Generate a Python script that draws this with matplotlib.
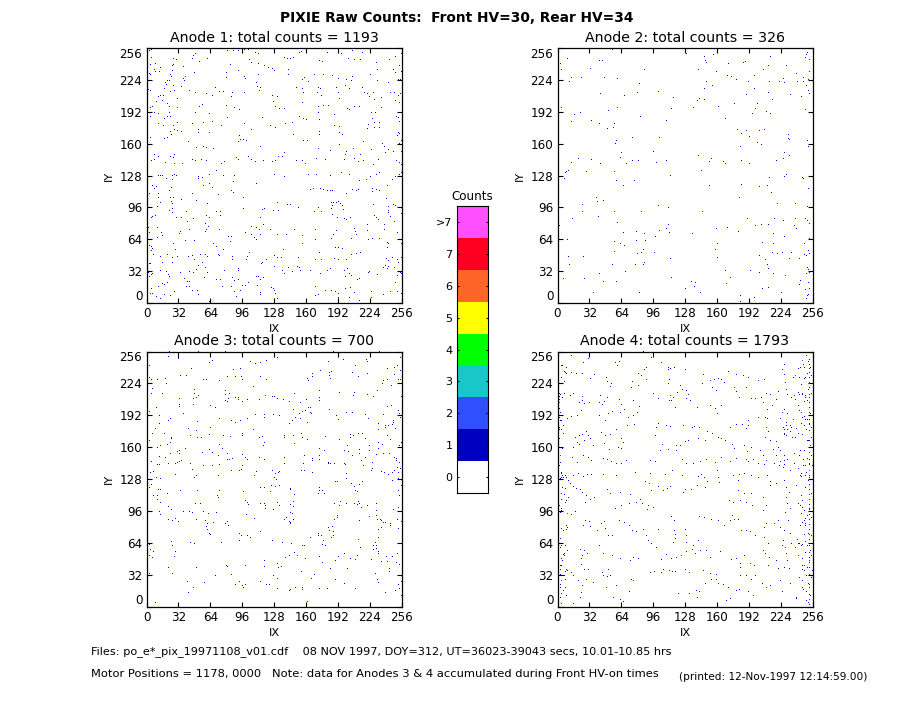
import numpy as np
import matplotlib
matplotlib.use('Agg')
import matplotlib.pyplot as plt
from matplotlib.colors import ListedColormap, BoundaryNorm

W, H = 913, 705

# (IX, IY) of the pixels
anode1_pts = [(2,253),(4,254),(7,255),(8,255),(80,253),(86,253),(91,253),(97,254),(101,254),(51,255),(119,255),(154,252),(152,251),(108,251),(111,250),(180,251),(194,250),(210,255),(205,253),(215,251),(223,252),(254,250),(48,250),(46,248),(45,245),(4,246),(26,245),(29,244),(52,242),(60,245),(102,244),(104,241),(137,246),(140,245),(143,245),(146,246),(172,243),(175,242),(201,245),(207,244),(213,244),(242,244),(248,247),(229,241),(3,239),(8,240),(13,236),(25,238),(26,239),(36,237),(83,239),(91,233),(111,240),(117,238),(121,236),(125,235),(127,233),(141,234),(141,229),(79,231),(79,226),(97,227),(98,225),(111,229),(47,231),(2,230),(3,229),(7,234),(8,232),(12,232),(25,233),(23,229),(24,227),(38,227),(36,225),(37,223),(18,221),(20,223),(19,219),(22,223),(26,218),(34,217),(1,214),(3,213),(23,212),(17,215),(27,213),(42,213),(48,211),(59,210),(65,208),(68,216),(72,212),(76,212),(85,211),(84,207),(97,211),(109,221),(110,217),(113,216),(112,213),(125,208),(126,202),(130,207),(128,197),(132,195),(137,195),(149,216),(155,215),(157,226),(155,224),(161,222),(167,229),(156,211),(155,201),(171,216),(173,215),(170,211),(174,208),(171,197),(176,198),(181,198),(171,191),(187,189),(185,228),(176,229),(191,225),(189,216),(191,211),(192,205),(198,218),(199,224),(205,227),(204,223),(202,215),(215,216),(217,211),(220,210),(222,207),(226,211),(227,204),(230,234),(223,229),(230,223),(241,221),(246,234),(248,231),(252,238),(254,232),(251,224),(253,224),(243,211),(247,211),(251,208),(253,210),(248,203),(252,201),(234,206),(200,195),(202,194),(207,197),(212,197),(224,191),(228,191),(234,196),(249,187),(251,186),(252,182),(254,191),(3,196),(5,197),(7,191),(11,190),(17,185),(11,180),(16,178),(3,187),(22,191),(20,200),(22,197),(30,196),(20,187),(23,187),(9,202),(11,207),(13,208),(16,208),(15,203),(30,205),(52,197),(55,199),(48,191),(62,190),(79,198),(87,196),(92,194),(80,186),(65,182),(56,181),(45,180),(51,174),(51,171),(62,171),(74,178),(97,180),(104,174),(115,186),(123,178),(128,176),(138,180),(145,181),(152,187),(156,185),(159,184),(146,169),(172,184),(172,172),(172,169),(187,178),(192,177),(192,171),(195,169),(225,185),(227,181),(232,181),(232,176),(227,176),(221,179),(220,175),(26,178),(30,181),(27,174),(30,173),(34,172),(23,172),(24,169),(20,166),(17,165),(3,166),(41,162),(49,156),(56,157),(59,156),(66,155),(92,168),(93,164),(96,164),(99,163),(91,162),(113,157),(156,163),(160,163),(216,162),(192,159),(206,155),(235,160),(237,157),(241,154),(246,152),(252,170),(250,168),(251,171),(254,163),(252,160),(254,152),(171,155),(183,153),(199,152),(198,149),(213,149),(224,154),(238,151),(7,149),(11,147),(7,144),(4,143),(23,147),(27,149),(26,146),(18,141),(27,140),(35,140),(45,144),(48,143),(54,144),(59,143),(74,140),(77,142),(89,146),(91,144),(101,147),(104,144),(108,142),(116,143),(125,142),(128,143),(131,147),(135,147),(137,151),(149,143),(155,143),(158,140),(169,145),(178,144),(207,145),(197,144),(211,142),(216,143),(226,139),(231,144),(249,143),(252,141),(254,139),
(11,128),(13,128),(15,128),(25,128),(27,129),(29,128),(46,127),(51,126),(55,125),(62,129),(69,133),(76,128),(87,128),(86,121),(127,129),(137,126),(161,129),(169,129),(183,128),(194,131),(202,129),(212,122),(219,123),(223,126),(229,129),(232,131),(245,123),(248,126),(252,129),(254,131),(5,117),(9,116),(7,114),(19,124),(24,115),(25,123),(2,109),(11,109),(22,112),(51,124),(56,117),(62,119),(65,115),(45,109),(71,108),(84,112),(86,110),(109,119),(163,113),(166,114),(173,114),(176,113),(180,112),(183,112),(185,112),(199,109),(205,113),(209,112),(211,113),(225,114),(225,111),(229,113),(232,112),(240,117),(239,104),(11,105),(13,100),(23,105),(26,105),(24,101),(25,99),(34,103),(22,92),(25,94),(25,90),(29,85),(34,85),(39,91),(10,96),(8,87),(5,86),(4,85),(49,102),(60,99),(96,105),(96,94),(69,91),(73,91),(73,87),(59,87),(62,85),(115,93),(117,94),(126,92),(131,92),(130,100),(140,98),(143,98),(151,95),(167,91),(171,95),(174,91),(184,100),(186,100),(189,100),(191,101),(193,99),(195,97),(196,93),(185,97),(184,94),(185,88),(190,85),(197,84),(199,83),(203,85),(226,98),(227,87),(229,85),(231,83),(241,96),(241,92),(241,90),(246,98),(248,97),(251,95),(254,89),(243,86),(247,81),(40,81),(46,84),(58,79),(61,76),(59,73),(58,71),(42,73),(33,71),(32,69),(10,75),(14,70),(1,75),(2,70),(10,65),(15,67),(38,62),(26,59),(47,62),(72,73),(84,66),(81,66),(83,61),(98,70),(104,76),(109,75),(104,68),(107,65),(109,63),(112,73),(113,68),(116,78),(113,85),(123,73),(130,68),(139,68),(147,73),(155,67),(155,59),(168,73),(168,63),(184,64),(189,72),(186,68),(204,64),(207,74),(208,71),(209,68),(220,78),(220,72),(221,63),(225,64),(232,64),(237,78),(237,73),(240,60),(241,59),(240,55),(254,59),(250,70),(2,57),(4,56),(5,54),(4,52),(6,48),(28,53),(13,46),(20,48),(25,45),(25,40),(30,46),(41,46),(45,47),(47,43),(53,48),(58,48),(60,46),(66,59),(69,56),(71,48),(72,47),(76,53),(85,46),(85,43),(100,46),(102,50),(99,43),(115,40),(119,43),(114,39),(127,47),(130,45),(136,53),(134,45),(151,45),(172,50),(174,43),(168,43),(188,55),(191,55),(195,54),(204,48),(209,49),(213,50),(199,43),(187,44),(191,43),(239,44),(241,42),(245,45),(250,43),(251,40),(254,45),(2,39),(3,39),(1,30),(2,26),(4,28),(5,29),(13,32),(15,40),(19,31),(21,28),(22,26),(15,19),(17,18),(20,20),(11,16),(4,14),(3,9),(5,9),(9,6),(13,4),(17,8),(23,7),(27,11),(33,30),(37,24),(42,31),(46,30),(49,33),(51,37),(55,40),(58,35),(60,30),(57,25),(69,23),(73,23),(77,32),(85,25),(87,22),(91,34),(91,32),(91,23),(75,16),(42,21),(40,21),(42,16),(39,16),(45,12),(50,12),(51,8),(62,1),(84,16),(87,11),(89,6),(93,12),(98,17),(95,17),(101,20),(109,26),(111,26),(113,23),(116,25),(113,10),(113,8),(124,15),(126,14),(127,12),(128,9),(130,4),(110,17),(127,36),(135,32),(137,29),(141,35),(145,31),(150,36),(153,32),(152,35),(163,32),(168,16),(168,7),(171,8),(173,29),(178,12),(183,34),(180,32),(184,12),(188,11),(191,5),(191,9),(197,32),(198,26),(200,34),(202,29),(204,27),(203,15),(198,14),(202,5),(210,23),(212,24),(207,10),(212,2),(221,30),(222,31),(224,11),(224,5),(236,8),(230,28),(236,35),(238,37),(241,36),(240,34),(247,35),(251,31),(253,30),(254,29),(250,27),(248,20),(243,11),(250,11),(254,9)]

anode2_pts = [(54,254),(128,250),(9,245),(2,240),(41,243),(44,243),(146,247),(147,243),(148,241),(155,249),(170,240),(185,241),(187,242),(212,247),(210,238),(228,238),(249,251),(248,249),(247,246),(251,244),(32,235),(3,234),(86,234),(140,234),(158,232),(205,234),(238,230),(251,232),(0,226),(11,222),(13,226),(23,226),(46,226),(59,225),(81,220),(148,222),(146,215),(154,218),(169,228),(173,227),(178,224),(190,222),(196,228),(196,215),(211,222),(221,222),(225,225),(226,221),(239,222),(245,226),(245,222),(250,224),(248,218),(250,213),(251,210),(42,210),(79,211),(100,212),(66,208),(115,206),(232,209),(243,207),(210,211),(188,209),(139,203),(141,205),(146,204),(214,204),(199,200),(197,195),(160,197),(176,200),(113,195),(135,196),(3,196),(59,196),(50,193),(22,191),(16,189),(82,187),(194,190),(208,192),(212,190),(247,194),(167,185),(13,182),(33,183),(108,183),(41,180),(56,180),(49,175),(55,176),(179,174),(201,173),(206,174),(183,170),(188,173),(191,167),(230,169),(230,165),(231,164),(74,166),(101,166),(57,160),(58,163),(199,161),(203,159),(249,163),(250,157),(182,157),(95,152),(226,151),(231,148),(63,151),(62,146),(140,148),(153,145),(151,142),(20,145),(33,144),(74,143),(80,143),(108,143),(183,143),(218,143),(225,145),(165,142),(167,140),(13,141),(42,140),(68,140),(98,141),(191,140),(10,133),(8,132),(7,131),(28,132),(56,132),(143,133),(112,128),(150,127),(228,129),(227,127),(226,126),(244,125),(245,124),(6,124),(211,125),(58,122),(76,122),(183,118),(65,117),(151,117),(201,116),(209,117),(213,110),(250,114),(38,105),(39,101),(45,102),(181,105),(219,99),(237,99),(24,98),(100,97),(110,95),(249,96),(24,91),(56,91),(83,91),(144,91),(40,86),(14,84),(189,84),(216,84),(225,82),(237,84),(247,84),(249,82),(251,79),(59,80),(110,78),(1,77),(108,74),(197,77),(203,78),(210,78),(236,77),(238,74),(158,74),(169,75),(65,70),(78,71),(86,69),(101,72),(111,70),(134,69),(180,71),(215,69),(226,66),(251,64),(97,66),(9,63),(78,62),(87,62),(56,61),(62,59),(66,57),(159,59),(204,60),(215,59),(246,59),(85,53),(83,50),(79,49),(56,51),(96,50),(157,53),(214,50),(219,49),(224,50),(233,50),(250,52),(251,49),(10,46),(25,46),(112,44),(159,45),(201,47),(207,43),(231,44),(241,44),(246,48),(248,47),(86,40),(85,38),(11,38),(54,38),(77,38),(209,38),(210,34),(249,35),(250,33),(167,32),(192,32),(67,31),(201,30),(41,29),(215,29),(248,29),(251,30),(227,27),(5,24),(26,24),(113,25),(172,25),(45,21),(58,21),(133,21),(137,20),(168,19),(242,22),(241,18),(250,20),(136,16),(127,14),(204,14),(210,15),(251,14),(247,13),(35,10),(81,10),(142,10),(223,10),(250,8),(249,7),(182,7),(196,5),(248,4),(182,1)]

anode3_pts = [(2,255),(5,255),(22,254),(42,255),(51,254),(67,255),(72,255),(78,254),(90,255),(95,255),(117,255),(130,255),(147,255),(168,255),(175,255),(180,255),(186,254),(190,253),(197,255),(210,255),(212,255),(227,255),(232,254),(245,255),(252,255),(21,249),(31,247),(31,248),(253,248),(65,245),(62,243),(103,244),(108,242),(113,243),(119,245),(130,248),(181,244),(196,246),(219,246),(220,244),(208,240),(2,240),(0,239),(44,237),(86,236),(93,237),(240,237),(247,238),(250,240),(253,235),(2,228),(4,226),(10,226),(18,227),(19,222),(33,230),(39,230),(56,226),(59,226),(72,225),(80,229),(88,229),(94,229),(95,226),(113,229),(119,226),(106,219),(161,225),(160,227),(165,232),(165,229),(173,235),(182,233),(182,230),(184,234),(183,227),(205,233),(211,229),(220,232),(236,225),(240,226),(247,231),(251,226),(253,226),(244,220),(235,222),(230,215),(5,217),(4,212),(15,212),(47,216),(47,212),(49,208),(46,207),(51,210),(78,215),(78,211),(82,212),(81,207),(88,208),(91,206),(91,208),(95,204),(78,205),(80,204),(100,206),(112,206),(118,210),(125,209),(127,209),(130,207),(136,206),(147,212),(142,204),(153,203),(159,206),(172,215),(172,208),(172,205),(192,213),(207,213),(206,210),(220,211),(226,209),(254,209),(32,207),(32,201),(32,199),(46,201),(63,200),(68,198),(2,194),(9,198),(12,190),(21,185),(23,187),(36,192),(72,187),(84,185),(93,185),(88,183),(100,187),(108,191),(117,191),(117,188),(126,191),(132,190),(145,185),(146,196),(152,192),(155,194),(158,195),(161,198),(164,192),(163,198),(163,193),(142,182),(148,188),(153,187),(160,183),(182,196),(189,190),(191,186),(199,193),(205,193),(218,191),(221,187),(240,199),(236,191),(244,200),(251,195),(252,192),(253,188),(12,182),(50,184),(63,178),(5,172),(8,177),(17,172),(23,163),(24,167),(24,168),(41,177),(43,170),(49,175),(50,168),(54,168),(62,171),(76,170),(83,169),(95,172),(95,170),(106,176),(112,168),(115,169),(117,163),(116,160),(137,170),(137,168),(146,170),(147,162),(155,168),(160,166),(154,172),(172,157),(177,155),(178,169),(192,166),(203,168),(203,171),(211,172),(215,172),(218,167),(206,170),(231,176),(238,178),(240,170),(243,166),(246,185),(246,183),(245,181),(238,180),(231,182),(241,180),(248,177),(252,160),(254,163),(231,163),(231,157),(235,161),(222,160),(222,155),(229,151),(236,152),(242,152),(247,148),(2,165),(10,158),(13,160),(20,161),(30,154),(32,155),(38,157),(32,152),(23,152),(12,149),(18,148),(55,153),(62,156),(65,153),(72,161),(75,157),(80,152),(85,147),(82,146),(95,151),(98,148),(100,146),(95,140),(84,135),(92,135),(94,136),(80,146),(71,150),(12,141),(10,141),(21,142),(28,142),(30,143),(32,144),(34,145),(43,142),(4,144),(56,140),(65,140),(72,141),(45,136),(49,130),(47,128),(28,131),(6,134),(3,133),(9,128),(13,127),(71,130),(112,148),(117,146),(107,130),(109,134),(125,135),(128,132),(127,128),(131,133),(132,134),(129,126),(128,119),(124,120),(132,120),(137,142),(137,148),(154,135),(157,135),(165,133),(156,142),(157,150),(165,147),(165,145),(172,146),(172,150),(181,142),(183,142),(187,142),(188,124),(190,124),(181,143),(197,142),(198,141),(199,132),(199,127),(204,122),(207,119),(208,115),(210,114),(212,121),(215,124),(216,140),(214,145),(205,150),(201,154),(197,155),(200,160),(212,152),(212,156),(218,148),(225,143),(225,137),(224,135),(234,134),(237,133),(241,131),(247,135),(250,138),(253,137),(252,143),(249,145),(249,147),(251,133),(251,127),(245,125),(245,133),(254,120),(251,115),(252,110),(50,115),(72,115),(70,110),(71,108),(6,110),(10,110),(20,112),(33,115),(2,118),(4,121),(13,116),(11,116),(10,106),(13,103),(21,99),(24,96),(12,94),(13,91),(21,86),(25,85),(28,87),(31,84),(36,94),(42,94),(45,93),(48,102),(53,102),(49,86),(56,94),(61,92),(69,93),(58,85),(66,83),(60,82),(59,79),(60,76),(62,72),(63,71),(78,82),(80,84),(81,80),(113,118),(117,118),(123,114),(117,102),(118,100),(113,102),(118,97),(126,96),(132,100),(130,103),(143,101),(143,116),(143,117),(147,111),(146,104),(146,99),(145,92),(143,93),(137,86),(139,88),(142,84),(143,83),(143,82),(146,86),(100,103),(101,101),(98,105),(96,114),(99,91),(107,87),(92,72),(94,70),(92,65),(100,70),(103,68),(113,74),(125,65),(135,63),(144,62),(155,60),(157,60),(163,68),(171,72),(171,70),(174,70),(176,65),(175,61),(178,60),(181,78),(182,75),(185,79),(186,74),(186,70),(184,68),(190,90),(187,86),(192,100),(193,104),(187,102),(171,112),(172,115),(175,115),(177,112),(172,118),(190,88),(199,102),(207,102),(211,104),(212,102),(214,98),(220,100),(210,101),(212,85),(211,66),(222,89),(229,102),(229,95),(229,90),(230,86),(234,85),(238,83),(233,86),(236,83),(231,76),(231,68),(228,63),(226,60),(226,56),(229,60),(229,57),(231,54),(231,52),(234,78),(243,80),(243,82),(251,77),(250,86),(254,84),(251,98),(246,96),(2,61),(3,56),(6,54),(2,50),(5,48),(24,64),(25,60),(28,54),(27,49),(43,63),(47,62),(2,32),(21,38),(25,32),(40,24),(41,13),(46,18),(49,38),(57,23),(68,30),(74,63),(79,40),(80,39),(84,31),(88,21),(92,24),(95,20),(98,21),(96,18),(98,40),(113,24),(117,45),(117,39),(119,21),(122,21),(126,30),(130,27),(130,42),(131,38),(134,39),(130,17),(138,48),(142,15),(143,16),(148,18),(155,18),(155,16),(142,50),(147,53),(150,50),(154,34),(158,47),(160,4),(164,27),(167,31),(172,49),(175,43),(172,17),(180,17),(183,37),(188,45),(188,26),(191,49),(197,22),(197,52),(200,37),(203,47),(208,46),(208,17),(210,50),(213,58),(224,46),(228,32),(230,26),(231,23),(234,44),(239,49),(238,13),(242,37),(242,34),(240,44),(245,49),(249,43),(250,52),(252,41),(248,15),(252,17),(254,24),(254,10),(251,21),(8,3)]

anode4_pts = [(1,255),(3,255),(5,255),(8,255),(10,255),(13,255),(16,255),(19,255),(22,255),(25,255),(28,255),(30,255),(32,255),(44,255),(47,255),(50,255),(56,255),(60,255),(63,255),(65,255),(80,255),(82,255),(85,254),(90,253),(97,255),(100,255),(103,255),(110,255),(114,255),(118,255),(125,255),(130,255),(133,255),(137,255),(140,255),(145,255),(150,255),(155,255),(160,255),(165,255),(172,255),(177,255),(185,255),(188,255),(192,255),(196,255),(200,255),(205,255),(210,255),(224,255),(228,255),(232,255),(236,255),(240,255),(243,255),(247,255),(251,255),(254,255),
(13,250),(25,243),(30,247),(57,243),(59,240),(61,244),(93,248),(103,243),(110,238),(112,237),(3,240),(6,234),(8,232),(13,233),(18,232),(24,232),(32,227),(36,231),(80,232),(86,236),(88,238),(110,236),(116,238),(127,236),(145,231),(160,227),(170,234),(178,231),(185,230),(190,228),(200,225),(206,226),(226,241),(224,236),(226,231),(240,237),(237,230),(241,228),(244,245),(245,241),(248,250),(250,244),(252,238),(249,232),(246,227),(251,223),(253,230),
(48,228),(49,224),(53,222),(52,219),(74,224),(80,220),(73,218),(88,226),(83,230),(111,226),(110,222),(122,220),(128,215),(119,213),(124,216),(112,210),(113,205),(115,208),(130,211),(132,205),(144,222),(152,225),(156,226),(163,226),(166,223),(154,218),(158,215),(176,218),(178,214),(181,208),(188,218),(193,207),(197,207),(203,208),(208,212),(212,211),(218,206),(220,214),(227,223),(228,216),(229,211),(233,208),(240,213),(244,212),(247,208),(250,216),(253,212),(246,204),(240,200),(237,206),(2,211),(0,207),(4,208),(1,203),(6,212),(12,210),(15,212),(24,205),(24,209),(26,202),(31,203),(21,203),(41,203),(44,201),(42,210),(46,204),(49,208),(61,206),(63,201),(75,205),(81,199),(95,212),(100,207),(111,205),(117,198),(128,207),(139,198),(152,200),(157,197),(159,192),(163,200),(205,203),(209,196),(214,200),(224,193),(222,187),(226,196),(229,192),(235,186),(243,193),(246,189),(249,186),(252,192),(251,182),(253,178),(248,176),(243,182),(233,178),(228,170),(228,183),(225,178),(229,176),(232,174),(226,172),(234,168),(240,172),(238,177),
(2,185),(1,176),(5,180),(9,187),(13,189),(19,190),(23,195),(41,190),(47,185),(50,192),(54,194),(62,193),(66,196),(70,188),(75,190),(79,193),(69,180),(76,181),(58,176),(43,173),(47,170),(52,171),(28,174),(30,170),(32,167),(17,168),(21,170),(24,171),(19,163),(15,158),(21,161),(26,165),(35,160),(46,162),(51,156),(60,158),(63,157),(65,163),(63,167),(100,182),(108,180),(112,179),(125,180),(134,178),(136,179),(141,178),(149,174),(154,172),(98,178),(97,170),(104,161),(102,155),(110,156),(118,155),(118,160),(122,160),(127,164),(130,165),(140,167),(147,165),(160,168),(163,167),(167,165),(172,178),(178,181),(184,181),(190,180),(190,185),(188,177),(200,188),(207,188),(209,187),(208,178),(210,174),(207,168),(212,165),(218,164),(186,160),(174,161),(176,157),(189,154),(193,158),(202,155),(205,150),(215,156),(218,150),(220,158),(222,155),(226,150),(229,146),(236,152),(236,142),(241,150),(246,155),(249,147),(251,142),(253,150),(245,140),(252,160),(250,165),(253,168),
(2,150),(1,140),(3,133),(5,128),(7,130),(10,125),(12,122),(15,119),(18,117),(22,116),(24,113),(28,110),(14,148),(19,143),(25,150),(30,148),(33,145),(45,147),(49,146),(53,144),(58,142),(63,142),(68,145),(77,133),(92,145),(97,144),(92,132),(87,124),(91,122),(100,119),(105,115),(109,117),(112,119),(93,115),(114,135),(107,131),(124,146),(128,142),(135,142),(142,144),(148,146),(157,143),(163,148),(172,144),(178,147),(188,146),(190,144),(195,146),(200,142),(208,145),(216,142),(222,144),(225,138),(232,135),(240,137),(243,132),(247,130),(251,135),(254,140),(124,130),(143,131),(140,129),(146,128),(149,124),(147,118),(139,120),(133,116),(127,116),(125,113),(159,135),(160,128),(161,123),(175,130),(181,131),(180,125),(186,132),(193,130),(200,128),(209,130),(212,124),(212,120),(218,122),(226,125),(228,118),(231,113),(238,120),(243,110),(247,118),(250,125),(253,112),(8,128),(15,130),(20,132),(25,129),(29,131),(33,131),(45,131),(58,130),(49,116),(52,112),(62,113),(72,111),(36,108),(27,103),(32,106),(3,112),(7,117),(8,105),(10,108),(1,100),(3,95),(9,92),(13,91),(17,94),(63,100),(57,97),(71,102),(84,102),(90,100),(82,106),(78,103),(89,96),(95,98),(180,115),(186,112),(182,105),(175,103),(171,105),(193,112),(188,103),(194,100),(205,108),(208,100),(228,108),(229,102),(232,97),(227,93),(230,85),(240,102),(244,105),(243,92),(246,85),(249,90),(251,97),(247,82),(253,88),
(27,85),(31,84),(25,80),(32,79),(39,75),(43,82),(46,84),(47,77),(50,70),(54,70),(61,85),(66,83),(71,80),(74,75),(78,74),(85,76),(88,70),(90,65),(93,62),(98,58),(100,76),(113,89),(116,85),(116,75),(117,71),(117,67),(115,63),(127,76),(128,70),(128,63),(135,60),(141,89),(146,88),(153,86),(160,85),(166,80),(174,90),(172,85),(176,86),(180,86),(183,75),(188,75),(192,74),(197,70),(205,95),(208,82),(206,78),(206,68),(210,62),(216,82),(220,85),(222,78),(226,75),(225,65),(224,60),(232,72),(233,62),(240,62),(243,60),(247,64),(250,72),(249,60),(252,55),(253,70),(3,77),(5,75),(9,78),(3,60),(7,60),(9,55),(6,50),(4,45),(2,40),(22,56),(24,50),(26,55),(29,52),(23,47),(23,41),(26,36),(30,36),(41,60),(45,52),(54,50),(62,47),(75,48),(80,47),(72,45),(128,54),(134,56),(142,55),(148,55),(140,65),(137,52),(162,54),(152,48),(173,46),(178,47),(182,42),(186,50),(192,42),(196,40),(205,55),(207,52),(211,48),(210,40),(218,45),(227,58),(228,52),(229,45),(226,38),(231,37),(220,37),(240,50),(244,40),(246,35),(248,30),(251,45),(249,38),(253,50),(254,35),(108,51),(113,47),(118,48),(123,50),(103,46),(105,36),(96,34),(92,33),(103,33),(111,35),(114,34),(117,34),(127,36),(131,33),(145,35),(152,32),(158,31),(182,38),(182,30),(188,30),(193,26),(197,30),(9,35),(6,30),(3,25),(2,18),(5,15),(8,10),(13,33),(15,30),(20,25),(28,26),(35,23),(45,30),(49,29),(52,30),(50,36),(44,33),(73,26),(75,25),(58,20),(48,18),(55,8),(62,6),(65,4),(71,14),(24,20),(23,13),(22,8),(15,2),(120,12),(131,12),(138,15),(141,14),(139,8),(147,22),(153,26),(158,26),(160,22),(165,21),(170,18),(178,15),(181,16),(190,14),(195,10),(204,22),(208,18),(212,20),(222,25),(232,22),(238,8),(244,18),(248,14),(250,22),(251,18),(252,10),(251,6),(250,3),(253,28),(172,7),(168,5),(224,14),
# right and left edge, from closer crops
(251,246),(251,241),(251,237),(251,233),(251,228),(251,223),(251,218),(251,211),(251,208),(251,203),(251,198),(251,193),(251,186),(251,181),(251,175),(251,165),(251,158),(251,153),(251,146),(251,141),(251,135),(251,130),(244,245),(242,238),(246,238),(235,228),(237,230),(247,228),(243,221),(244,211),(241,211),(236,210),(247,210),(249,205),(241,195),(244,188),(247,186),(246,180),(226,176),(228,180),(232,180),(226,171),(237,168),(244,171),(249,165),(242,155),(245,146),(247,140),(248,133),(242,130),(226,145),(221,140),(226,141),(206,141),
(251,128),(251,121),(251,116),(251,111),(251,106),(251,101),(251,96),(251,91),(251,86),(251,81),(251,76),(251,71),(251,66),(251,60),(251,53),(251,48),(251,43),(251,38),(251,31),(251,21),(251,11),(251,6),(251,1),(243,129),(246,95),(244,98),(242,100),(247,87),(244,83),(247,80),(242,80),(246,71),(239,66),(244,61),(241,62),(237,58),(247,53),(244,47),(246,40),(244,36),(241,28),(244,25),(245,16),(238,7),(248,5),
(1,212),(1,209),(1,206),(1,203),(1,197),(2,193),(1,188),(3,185),(1,178),(3,176),(5,172),(1,167),(4,157),(2,150),(2,143),(3,132),(4,130),(2,127),(7,233),(4,240),(3,228),(6,224),(8,238),(3,128),(4,118),(6,111),(3,106),(7,103),(3,97),(2,93),(9,92),(8,80),(8,76),(2,67),(3,62),(2,58),(3,47),(6,52),(5,51),(3,40),(2,36),(2,31),(5,30),(7,34),(8,36),(3,25),(7,26),(2,21),(7,18),(3,12),(2,8),(3,2)]

anode_pts = [anode1_pts, anode2_pts, anode3_pts, anode4_pts]
totals = [1193, 326, 700, 1793]

# axes boxes in pixels: left, top, right, bottom
boxes = [(146.5, 48, 401.5, 303), (557.5, 48, 812.5, 303),
         (146.5, 351.5, 401.5, 606.5), (557.5, 351.5, 812.5, 606.5)]
ticks = [0, 32, 64, 96, 128, 160, 192, 224, 256]

count_labels = ['0', '1', '2', '3', '4', '5', '6', '7', '>7']
count_colors = ['#FFFFFF', '#0000C0', '#3050FF', '#18C8C8', '#00FF00',
                '#FFFF00', '#FF6428', '#FF0020', '#FF50FF']
# single counts show up brighter in the panels than in the key
panel_colors = ['#FFFFFF', '#0000E6', '#3050FF', '#18C8C8', '#00FF00',
                '#FFFF00', '#FF6428', '#FF0020', '#FF50FF']

norm = BoundaryNorm(np.arange(-0.5, 9.5), 9)


def px_axes(fig, left, top, right, bottom):
    return fig.add_axes([left / W, 1 - bottom / H, (right - left) / W, (bottom - top) / H])


def px_text(fig, x, y, s, **kw):
    fig.text(x / W, 1 - y / H, s, va='center', **kw)


plt.rcParams['font.family'] = 'DejaVu Sans'
fig = plt.figure(figsize=(W / 100, H / 100), dpi=100, facecolor='white')

for i in range(4):
    ax = px_axes(fig, *boxes[i])
    xs, ys = zip(*anode_pts[i])
    img = np.zeros((256, 256))
    np.add.at(img, (np.array(ys), np.array(xs)), 1)
    ax.imshow(img, origin='lower', extent=(0, 256, 0, 256), cmap=ListedColormap(panel_colors),
              norm=norm, interpolation='nearest', aspect='auto')
    ax.set_xticks(ticks)
    ax.set_yticks(ticks)
    ax.tick_params(direction='in', top=True, right=True, length=3.6, width=0.8,
                   labelsize=8.6, pad=3, colors='black')
    ylabels = ax.get_yticklabels()
    ylabels[0].set_va('bottom')
    ylabels[-1].set_va('top')
    ax.set_xlabel('IX', fontsize=8.2, labelpad=3)
    ax.set_ylabel('IY', fontsize=8.2, labelpad=4)
    ax.set_title('Anode %d: total counts = %d' % (i + 1, totals[i]), fontsize=10.2, pad=4.5)
    for s in ax.spines.values():
        s.set_linewidth(0.9)

# colour key
cax = px_axes(fig, 456.8, 206, 488, 493)
key = np.arange(9).reshape(-1, 1)
cax.imshow(key, origin='lower', extent=(0, 1, -0.5, 8.5), cmap=ListedColormap(count_colors),
           norm=norm, interpolation='nearest', aspect='auto')
cax.set_xticks([])
cax.set_yticks(range(9))
cax.set_yticklabels(count_labels)
cax.tick_params(axis='y', direction='in', left=True, right=True, length=1.5, width=0.8,
                labelsize=8, pad=3)
cax.set_title('Counts', fontsize=8.6, pad=4)

px_text(fig, 456.5, 18, 'PIXIE Raw Counts:  Front HV=30, Rear HV=34', ha='center',
        fontsize=9.9, fontweight='bold')
px_text(fig, 91, 652, 'Files: po_e*_pix_19971108_v01.cdf    08 NOV 1997, DOY=312, UT=36023-39043 secs, 10.01-10.85 hrs',
        fontsize=8.15)
px_text(fig, 91, 674, 'Motor Positions = 1178, 0000   Note: data for Anodes 3 & 4 accumulated during Front HV-on times',
        fontsize=8.25)
px_text(fig, 679, 677, '(printed: 12-Nov-1997 12:14:59.00)', fontsize=7.6)

fig.savefig('out.png', dpi=100)
